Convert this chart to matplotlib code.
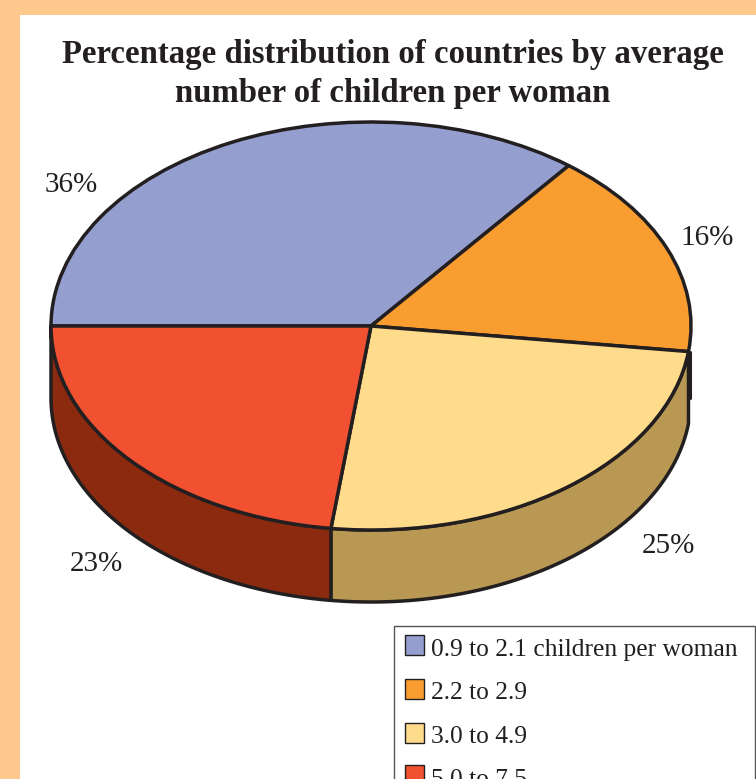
import numpy as np
import matplotlib
matplotlib.use('Agg')
import matplotlib.pyplot as plt
from matplotlib.patches import Polygon, Rectangle

plt.rcParams['font.family'] = ['Liberation Serif', 'DejaVu Serif']

W, H = 756, 779

# slice sizes as drawn in the picture (printed labels are rounded)
shares = [35.6, 16.4, 25, 23]
share_labels = ['36%', '16%', '25%', '23%']
legend_labels = ['0.9 to 2.1 children per woman', '2.2 to 2.9', '3.0 to 4.9', '5.0 to 7.5']
top_colors = ['#949FD0', '#F99D31', '#FFDB8C', '#F15131']
side_colors = [None, None, '#B89853', '#8C2A0F']
title = 'Percentage distribution of countries by average\nnumber of children per woman'

ink = '#231F20'
peach = '#FFC88D'

fig = plt.figure(figsize=(W / 100, H / 100), dpi=100, facecolor='white')

# page in pixel coordinates, for the frame, title and legend
page = fig.add_axes([0, 0, 1, 1])
page.set_xlim(0, W)
page.set_ylim(H, 0)
page.axis('off')
page.add_patch(Rectangle((0, 0), W, 15, fc=peach, ec='none'))
page.add_patch(Rectangle((0, 0), 20, H, fc=peach, ec='none'))
page.text(393, 74, title, ha='center', va='center', fontsize=23.6, fontweight='bold',
          color=ink, linespacing=1.3)

# pie axes: the ellipse is a squashed unit circle
cx, cy, rx, ry, depth = 371, 326, 320, 204, 72
ax = fig.add_axes([(cx - rx) / W, 1 - (cy + ry) / H, 2 * rx / W, 2 * ry / H])
ax.patch.set_alpha(0)
wedges, _ = ax.pie(shares, colors=top_colors, startangle=180, counterclock=False, radius=1,
                   wedgeprops={'edgecolor': ink, 'linewidth': 2.5, 'zorder': 5, 'joinstyle': 'round'})
ax.set_aspect('auto')
ax.set_xlim(-1, 1)
ax.set_ylim(-1, 1)
for w in wedges:
    w.set_clip_on(False)

# side wall under the front wedges
d = depth / ry
edges = 180 - np.cumsum([0] + shares) * 3.6
for i in range(len(shares)):
    if side_colors[i] is None:
        continue
    t = np.radians(np.linspace(edges[i], edges[i + 1], 120))
    x = np.cos(t)
    y = np.sin(t)
    pts = np.r_[np.c_[x, y], np.c_[x, y - d][::-1]]
    ax.add_patch(Polygon(pts, closed=True, fc=side_colors[i], ec=ink, lw=2.5, zorder=2,
                         clip_on=False, joinstyle='round'))

# right rim, from the orange/yellow edge down
ax.plot([0.997, 0.997], [np.sin(np.radians(edges[2])), -d], color=ink, lw=2.2, zorder=3,
        clip_on=False, solid_capstyle='round')

# percentage labels
label_pos = [(71, 185), (707, 238), (668, 546), (96, 564)]
for s, (px, py) in zip(share_labels, label_pos):
    page.text(px, py, s, ha='center', va='center', fontsize=21, color=ink)

# legend box runs off the bottom of the page
page.add_patch(Rectangle((393.5, 625.5), 361, 170, fc='white', ec='#555555', lw=1.0, zorder=6))
swatch_rows = [645, 689, 733, 775]
text_rows = [656, 699, 743, 786]
for lab, col, sy, ty in zip(legend_labels, top_colors, swatch_rows, text_rows):
    page.add_patch(Rectangle((405, sy - 10), 19, 20, fc=col, ec=ink, lw=1.0, zorder=7))
    page.text(431, ty, lab, ha='left', va='baseline', fontsize=18.4, color=ink, zorder=7,
              clip_on=True)

fig.savefig('out.png', dpi=100)
